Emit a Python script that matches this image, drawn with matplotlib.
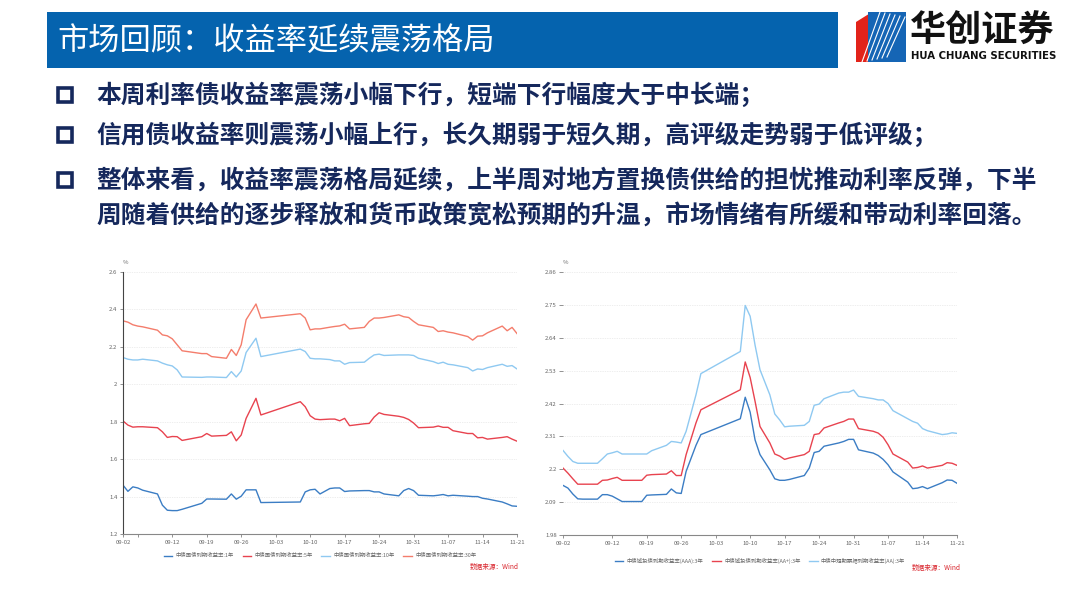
import numpy as np
import pandas as pd
import matplotlib
matplotlib.use("Agg")
import matplotlib.pyplot as plt
import matplotlib.dates as mdates
from matplotlib.patches import Rectangle, Polygon

plt.rcParams['font.family'] = ['Noto Sans CJK SC', 'DejaVu Sans']

# ---- data (2024) ----
dates = ["09-02", "09-03", "09-04", "09-05", "09-06", "09-09", "09-10", "09-11", "09-12", "09-13",
         "09-14", "09-18", "09-19", "09-20", "09-23", "09-24", "09-25", "09-26", "09-27", "09-29",
         "09-30", "10-08", "10-09", "10-10", "10-11", "10-12", "10-14", "10-15", "10-16", "10-17",
         "10-18", "10-21", "10-22", "10-23", "10-24", "10-25", "10-28", "10-29", "10-30", "10-31",
         "11-01", "11-04", "11-05", "11-06", "11-07", "11-08", "11-11", "11-12", "11-13", "11-14",
         "11-15", "11-18", "11-19", "11-20", "11-21"]

gov_1y = [1.461, 1.428, 1.452, 1.446, 1.434, 1.414, 1.354, 1.327, 1.325, 1.325,
          1.332, 1.364, 1.387, 1.387, 1.386, 1.414, 1.386, 1.402, 1.436, 1.436,
          1.368, 1.371, 1.425, 1.436, 1.439, 1.414, 1.443, 1.446, 1.446, 1.427,
          1.430, 1.432, 1.432, 1.425, 1.425, 1.414, 1.404, 1.432, 1.443, 1.432,
          1.407, 1.404, 1.407, 1.411, 1.404, 1.407, 1.402, 1.400, 1.400, 1.391,
          1.387, 1.371, 1.361, 1.350, 1.348]
gov_5y = [1.804, 1.782, 1.771, 1.773, 1.773, 1.768, 1.746, 1.716, 1.721, 1.720,
          1.700, 1.720, 1.737, 1.723, 1.727, 1.746, 1.698, 1.729, 1.818, 1.925,
          1.836, 1.907, 1.880, 1.832, 1.814, 1.811, 1.814, 1.814, 1.805, 1.818,
          1.779, 1.789, 1.791, 1.825, 1.848, 1.839, 1.829, 1.823, 1.812, 1.793,
          1.768, 1.771, 1.777, 1.770, 1.770, 1.752, 1.737, 1.737, 1.714, 1.716,
          1.707, 1.716, 1.720, 1.707, 1.696]
gov_10y = [2.143, 2.134, 2.130, 2.130, 2.134, 2.125, 2.113, 2.104, 2.098, 2.077,
           2.039, 2.037, 2.039, 2.039, 2.036, 2.068, 2.039, 2.071, 2.170, 2.246,
           2.148, 2.188, 2.175, 2.139, 2.136, 2.136, 2.132, 2.125, 2.125, 2.107,
           2.116, 2.118, 2.139, 2.157, 2.161, 2.154, 2.157, 2.157, 2.157, 2.154,
           2.139, 2.121, 2.111, 2.118, 2.107, 2.104, 2.089, 2.071, 2.082, 2.079,
           2.089, 2.107, 2.096, 2.100, 2.082]
gov_30y = [2.339, 2.332, 2.318, 2.311, 2.307, 2.289, 2.264, 2.259, 2.243, 2.211,
           2.179, 2.164, 2.164, 2.148, 2.139, 2.186, 2.154, 2.211, 2.345, 2.429,
           2.354, 2.377, 2.354, 2.291, 2.296, 2.296, 2.305, 2.309, 2.312, 2.321,
           2.296, 2.304, 2.336, 2.354, 2.354, 2.357, 2.371, 2.361, 2.357, 2.336,
           2.318, 2.304, 2.282, 2.286, 2.279, 2.275, 2.255, 2.236, 2.257, 2.259,
           2.275, 2.311, 2.286, 2.304, 2.271]

cr_aaa = [2.146, 2.137, 2.117, 2.101, 2.100, 2.100, 2.115, 2.115, 2.110, 2.101,
          2.092, 2.092, 2.113, 2.114, 2.116, 2.134, 2.121, 2.119, 2.193, 2.280,
          2.316, 2.369, 2.441, 2.391, 2.298, 2.249, 2.198, 2.168, 2.163, 2.163,
          2.166, 2.179, 2.204, 2.256, 2.260, 2.277, 2.288, 2.293, 2.300, 2.300,
          2.265, 2.254, 2.246, 2.233, 2.215, 2.191, 2.157, 2.135, 2.137, 2.142,
          2.135, 2.155, 2.164, 2.163, 2.153]
cr_aap = [2.204, 2.187, 2.168, 2.150, 2.150, 2.150, 2.163, 2.164, 2.169, 2.173,
          2.163, 2.163, 2.180, 2.182, 2.184, 2.195, 2.179, 2.179, 2.249, 2.355,
          2.399, 2.466, 2.559, 2.507, 2.427, 2.343, 2.288, 2.251, 2.244, 2.233,
          2.238, 2.249, 2.260, 2.316, 2.319, 2.338, 2.355, 2.360, 2.368, 2.368,
          2.336, 2.327, 2.321, 2.307, 2.282, 2.251, 2.224, 2.204, 2.206, 2.211,
          2.204, 2.213, 2.222, 2.220, 2.213]
cr_aa = [2.263, 2.243, 2.226, 2.220, 2.220, 2.220, 2.235, 2.251, 2.255, 2.260,
         2.251, 2.251, 2.251, 2.262, 2.280, 2.293, 2.291, 2.288, 2.327, 2.449,
         2.520, 2.594, 2.748, 2.712, 2.615, 2.533, 2.449, 2.385, 2.365, 2.342,
         2.344, 2.347, 2.360, 2.414, 2.418, 2.436, 2.455, 2.458, 2.458, 2.465,
         2.444, 2.436, 2.432, 2.432, 2.420, 2.396, 2.369, 2.360, 2.354, 2.336,
         2.329, 2.316, 2.318, 2.322, 2.320]

tick_dates = ["09-02", "09-12", "09-19", "09-26", "10-03", "10-10", "10-17", "10-24",
              "10-31", "11-07", "11-14", "11-21"]
left_yticks = [1.2, 1.4, 1.6, 1.8, 2.0, 2.2, 2.4, 2.6]
left_ylabels = ["1.2", "1.4", "1.6", "1.8", "2", "2.2", "2.4", "2.6"]
right_yticks = [1.98, 2.09, 2.20, 2.31, 2.42, 2.53, 2.64, 2.75, 2.86]
right_ylabels = ["1.98", "2.09", "2.2", "2.31", "2.42", "2.53", "2.64", "2.75", "2.86"]

left_names = ["中债国债到期收益率:1年", "中债国债到期收益率:5年",
              "中债国债到期收益率:10年", "中债国债到期收益率:30年"]
right_names = ["中债城投债到期收益率(AAA):3年", "中债城投债到期收益率(AA+):3年",
               "中债中短期票据到期收益率(AA):3年"]

title = "市场回顾：收益率延续震荡格局"
bullets = ["本周利率债收益率震荡小幅下行，短端下行幅度大于中长端；",
           "信用债收益率则震荡小幅上行，长久期弱于短久期，高评级走势弱于低评级；",
           "整体来看，收益率震荡格局延续，上半周对地方置换债供给的担忧推动利率反弹，下半",
           "周随着供给的逐步释放和货币政策宽松预期的升温，市场情绪有所缓和带动利率回落。"]

x = pd.to_datetime(["2024-" + d for d in dates])
xt = pd.to_datetime(["2024-" + d for d in tick_dates])

W, H = 1080, 607
fig = plt.figure(figsize=(W / 100, H / 100), dpi=100)
fig.patch.set_facecolor("white")

# overlay in pixel coordinates for the slide decoration
bg = fig.add_axes([0, 0, 1, 1])
bg.set_xlim(0, W)
bg.set_ylim(H, 0)
bg.axis("off")

navy = "#15285C"
bg.add_patch(Rectangle((47, 12), 791, 56, color="#0563AE", lw=0))
bg.text(57, 41, title, color="white", fontsize=22.5, va="center", ha="left")

# logo
bg.add_patch(Polygon([(856, 22), (872, 12), (872, 62), (856, 62)], color="#E2231A", lw=0))
bg.add_patch(Rectangle((868, 12), 38, 50, color="#1565B5", lw=0))
for k in range(6):
    o = k * 5
    bg.plot([862 + o, 880 + o], [62 - o * 0.2, 12 + o * 0.2], color="white", lw=0.8)
bg.text(910, 31, "华创证券", fontsize=26, fontweight="bold", color="#111111",
        va="center", ha="left")
bg.text(911, 56, "HUA CHUANG SECURITIES", fontsize=7.3, fontweight="bold",
        color="#111111", va="center", ha="left", family="DejaVu Sans")

# bullets
rows_y = [95, 135, 180, 215]
for i, (txt, yy) in enumerate(zip(bullets, rows_y)):
    if i < 3:
        bg.add_patch(Rectangle((58, yy - 7), 14, 14, fill=False, ec=navy, lw=2.6))
    bg.text(96, yy, txt, fontsize=17.8, color=navy, va="center", ha="left",
            fontweight="bold")


def style_axis(ax, yticks, ylabels, spine_left):
    ax.set_xlim(xt[0], xt[-1])
    ax.set_ylim(yticks[0], yticks[-1])
    ax.set_yticks(yticks)
    ax.set_yticklabels(ylabels)
    ax.set_xticks(xt)
    ax.xaxis.set_major_formatter(mdates.DateFormatter("%m-%d"))
    ax.tick_params(axis="both", labelsize=4.3, colors="#666666", length=2.5, width=0.5,
                   pad=1.5)
    for s in ["top", "right"]:
        ax.spines[s].set_visible(False)
    ax.spines["bottom"].set_color("#888888")
    ax.spines["bottom"].set_linewidth(0.8)
    if spine_left:
        ax.spines["left"].set_color("#444444")
        ax.spines["left"].set_linewidth(0.8)
    else:
        ax.spines["left"].set_visible(False)
    ax.grid(axis="y", color="#DDDDDD", ls=(0, (1, 1.5)), lw=0.5)
    ax.set_axisbelow(True)
    ax.text(0.0, 1.025, "%", transform=ax.transAxes, fontsize=4.3, color="#666666",
            ha="left", va="bottom")


leg_kw = dict(loc="upper center", frameon=False, fontsize=3.9, handlelength=1.6,
              columnspacing=1.6, labelcolor="#666666", handletextpad=0.6)

# left chart: government bonds
ax1 = fig.add_axes([123 / W, 1 - 534 / H, 394 / W, 262 / H])
cols1 = ["#3B7DC4", "#E8434F", "#8FC9F1", "#F47D6C"]
for ys, c, n in zip([gov_1y, gov_5y, gov_10y, gov_30y], cols1, left_names):
    ax1.plot(x, ys, color=c, lw=1.0, label=n)
style_axis(ax1, left_yticks, left_ylabels, True)
ax1.set_xticks([pd.Timestamp("2024-09-05")], minor=True)
ax1.tick_params(axis="x", which="minor", length=2.5, width=0.5, colors="#666666")
ax1.legend(bbox_to_anchor=(0.5, -0.055), ncol=4, **leg_kw)
ax1.text(1.005, -0.11, "数据来源：Wind", transform=ax1.transAxes, fontsize=4.8,
         color="#D9262E", ha="right", va="top")

# right chart: credit bonds
ax2 = fig.add_axes([563 / W, 1 - 535 / H, 394 / W, 263 / H])
cols2 = ["#3B7DC4", "#E8434F", "#8FC9F1"]
for ys, c, n in zip([cr_aaa, cr_aap, cr_aa], cols2, right_names):
    ax2.plot(x, ys, color=c, lw=1.0, label=n)
style_axis(ax2, right_yticks, right_ylabels, False)
ax2.tick_params(axis="y", length=3, colors="#666666")
ax2.legend(bbox_to_anchor=(0.5, -0.07), ncol=3, **leg_kw)
ax2.text(1.01, -0.11, "数据来源：Wind", transform=ax2.transAxes, fontsize=4.8,
         color="#D9262E", ha="right", va="top")

fig.savefig("out.png", dpi=100, facecolor="white")
